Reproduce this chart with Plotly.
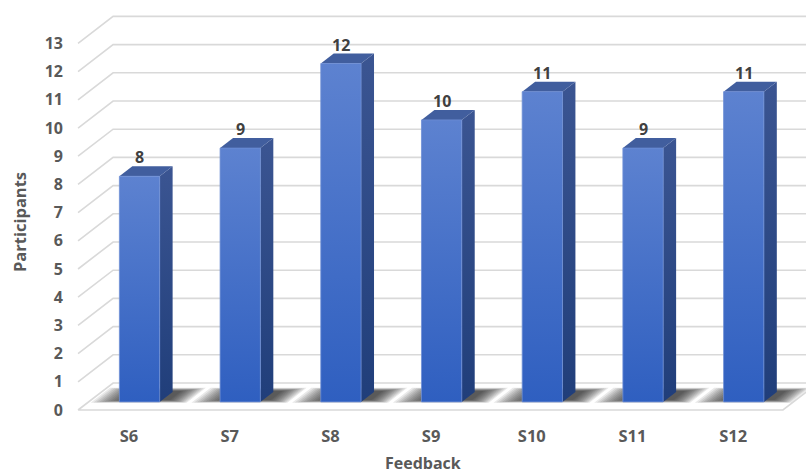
import plotly.graph_objects as go

# ---- data -------------------------------------------------------------
categories = ["S6", "S7", "S8", "S9", "S10", "S11", "S12"]
participants = [8, 9, 12, 10, 11, 9, 11]
y_tick_values = list(range(0, 14))
y_tick_labels = [str(v) for v in y_tick_values]

# ---- pseudo-3D projection (axis units) --------------------------------
DEPTH_DX = 0.348   # horizontal shift of the full floor depth
DEPTH_DY = 0.957   # vertical shift of the full floor depth
FLOOR_LEFT = -0.506
FLOOR_RIGHT = 6.494
BAR_W = 0.40
BAR_FRONT = 0.30   # depth of the bar front faces
BAR_BACK = 0.67    # depth of the bar back faces

FONT = "Open Sans"
GRID = "#d9d9d9"
TEXT = "#595959"


def proj(x, y, d):
    """Point at category x, value y, floor depth d -> axis coordinates."""
    return x + d * DEPTH_DX, y + d * DEPTH_DY


def poly(points):
    xs = [p[0] for p in points] + [points[0][0]]
    ys = [p[1] for p in points] + [points[0][1]]
    return xs, ys


fig = go.Figure()

# back-wall gridlines: diagonal from the front edge, then along the wall
gx, gy = [], []
for v in y_tick_values[1:]:
    a = proj(FLOOR_LEFT, v, 0)
    b = proj(FLOOR_LEFT, v, 1)
    gx += [a[0], b[0], 8, None]
    gy += [a[1], b[1], b[1], None]
fig.add_trace(go.Scatter(x=gx, y=gy, mode="lines",
                         line=dict(color=GRID, width=1.6),
                         hoverinfo="skip", showlegend=False))

# floor
fx, fy = poly([proj(FLOOR_LEFT, 0, 0), proj(FLOOR_RIGHT, 0, 0),
               proj(FLOOR_RIGHT, 0, 1), proj(FLOOR_LEFT, 0, 1)])
fig.add_trace(go.Scatter(x=fx, y=fy, mode="lines", fill="toself",
                         fillcolor="#ffffff",
                         line=dict(color=GRID, width=1.6),
                         hoverinfo="skip", showlegend=False))

# soft shadows on the floor: stacked translucent footprints that grow
# outward, so the overlap is darkest close to the bar
LAYERS = 12
for i, v in enumerate(participants):
    for k in range(LAYERS - 1, -1, -1):
        xl = i - BAR_W / 2 - k * 0.025
        xr = i + BAR_W / 2 + 0.08 + k * 0.018
        d0 = max(0.27, 0.37 - k * 0.009)
        d1 = min(0.83, 0.70 + k * 0.011)
        sx, sy = poly([proj(xl, 0, d0), proj(xr, 0, d0),
                       proj(xr, 0, d1), proj(xl, 0, d1)])
        fig.add_trace(go.Scatter(x=sx, y=sy, mode="lines", fill="toself",
                                 fillcolor="rgba(25,25,25,0.095)",
                                 line=dict(width=0),
                                 hoverinfo="skip", showlegend=False))

# bars: front, side and top faces
for i, v in enumerate(participants):
    l, r = i - BAR_W / 2, i + BAR_W / 2
    # side face
    sx, sy = poly([proj(r, 0, BAR_FRONT), proj(r, 0, BAR_BACK),
                   proj(r, v, BAR_BACK), proj(r, v, BAR_FRONT)])
    fig.add_trace(go.Scatter(
        x=sx, y=sy, mode="lines", fill="toself", line=dict(width=0),
        fillgradient=dict(type="vertical",
                          colorscale=[[0, "#203e7a"], [1, "#3b5592"]],
                          start=proj(r, 0, BAR_FRONT)[1],
                          stop=proj(r, v, BAR_BACK)[1]),
        hoverinfo="skip", showlegend=False))
    # top face
    tx, ty = poly([proj(l, v, BAR_FRONT), proj(r, v, BAR_FRONT),
                   proj(r, v, BAR_BACK), proj(l, v, BAR_BACK)])
    fig.add_trace(go.Scatter(x=tx, y=ty, mode="lines", fill="toself",
                             fillcolor="#415e9e", line=dict(width=0),
                             hoverinfo="skip", showlegend=False))
    # front face
    y0 = proj(l, 0, BAR_FRONT)[1]
    y1 = proj(l, v, BAR_FRONT)[1]
    ffx, ffy = poly([proj(l, 0, BAR_FRONT), proj(r, 0, BAR_FRONT),
                     proj(r, v, BAR_FRONT), proj(l, v, BAR_FRONT)])
    fig.add_trace(go.Scatter(
        x=ffx, y=ffy, mode="lines", fill="toself",
        line=dict(width=0.8, color="#6f8fd6"),
        fillgradient=dict(type="vertical",
                          colorscale=[[0, "#2f5fc0"], [1, "#5d82d0"]],
                          start=y0, stop=y1),
        hoverinfo="skip", showlegend=False))
    # value label
    lx = proj(i, v, BAR_FRONT)[0]
    ly = proj(i, v, BAR_BACK)[1]
    fig.add_annotation(x=lx, y=ly, text=str(v), showarrow=False,
                       xanchor="center", yanchor="bottom", yshift=-4,
                       font=dict(family=FONT, size=16, color="#404040",
                                 weight="bold"))

fig.add_annotation(text="Feedback", xref="paper", yref="paper",
                   x=0.4838, y=-0.1036, xanchor="center", yanchor="middle",
                   showarrow=False,
                   font=dict(family=FONT, size=16, color=TEXT, weight="bold"))
fig.add_annotation(text="Participants", xref="paper", yref="paper",
                   x=-0.0606, y=0.477, xanchor="center", yanchor="middle",
                   textangle=-90, showarrow=False,
                   font=dict(family=FONT, size=16.5, color=TEXT,
                             weight="bold"))

fig.update_layout(
    width=806, height=475,
    margin=dict(l=64, r=0, t=5, b=55),
    paper_bgcolor="white", plot_bgcolor="white",
    xaxis=dict(range=[-0.6455, 6.7229], tickvals=list(range(len(categories))),
               ticktext=categories, showgrid=False, zeroline=False,
               showline=False, ticks="", ticklabelstandoff=4,
               tickfont=dict(family=FONT, size=16.5, color=TEXT,
                             weight="bold")),
    yaxis=dict(range=[-0.3546, 14.362], tickvals=y_tick_values,
               ticktext=y_tick_labels, showgrid=False, zeroline=False,
               showline=False, ticks="",
               tickfont=dict(family=FONT, size=16, color=TEXT,
                             weight="bold")),
)

fig.write_html("out.html")
